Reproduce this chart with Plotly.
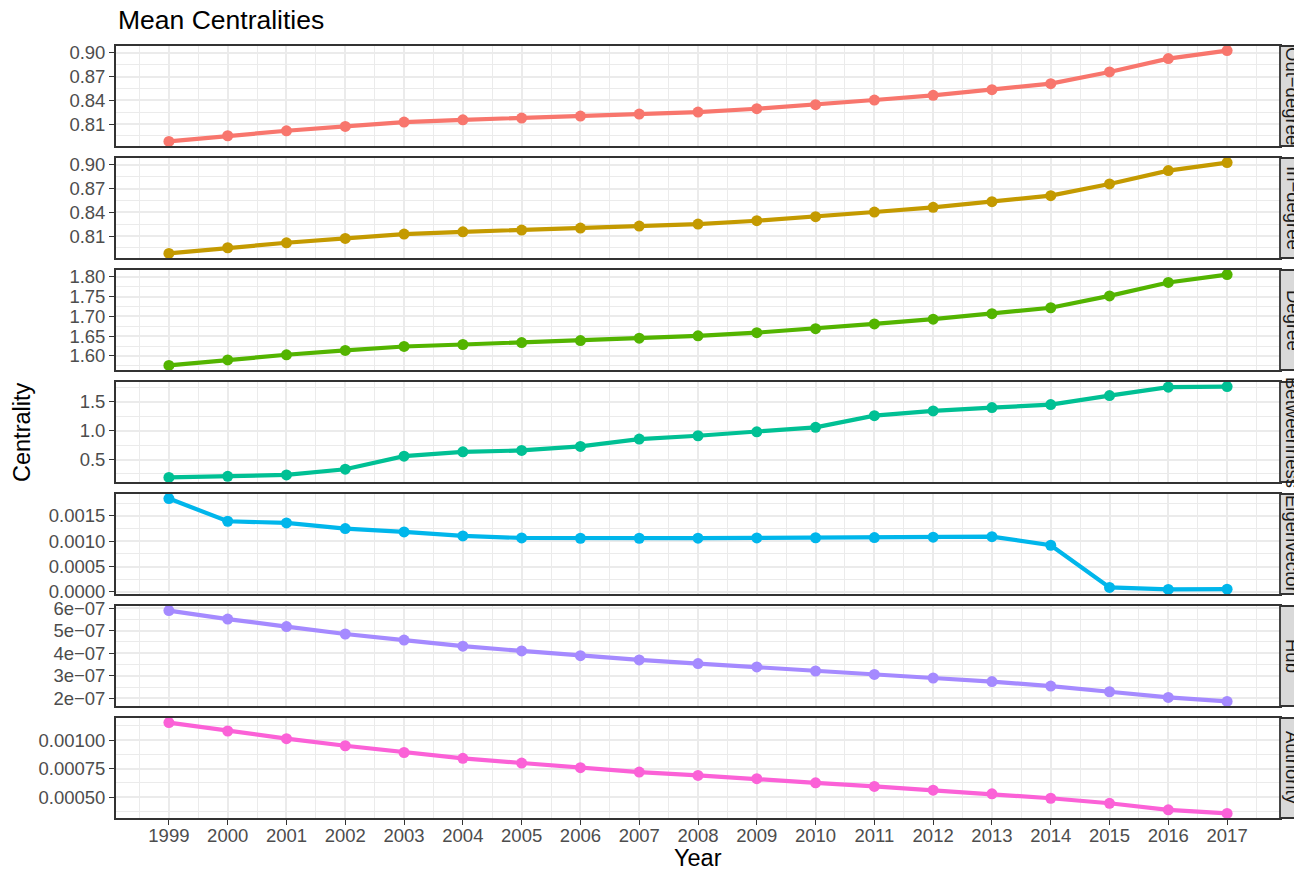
import plotly.graph_objects as go

# ---------------- data ----------------
years = list(range(1999, 2018))
facet_names = ["Out−degree", "In−degree", "Degree", "Betweenness", "Eigenvector", "Hub", "Authority"]
colors = ["#F8766D", "#C49A00", "#53B400", "#00C094", "#00B6EB", "#A58AFF", "#FB61D7"]

out_degree = [0.788, 0.7952, 0.8015, 0.8070, 0.8125, 0.8154, 0.8176, 0.8201, 0.8227, 0.8252,
              0.8294, 0.8345, 0.8404, 0.8463, 0.8535, 0.8611, 0.8759, 0.8928, 0.903]
in_degree = [0.788, 0.7952, 0.8015, 0.8070, 0.8125, 0.8154, 0.8176, 0.8201, 0.8227, 0.8252,
             0.8294, 0.8345, 0.8404, 0.8463, 0.8535, 0.8611, 0.8759, 0.8928, 0.903]
degree = [1.576, 1.590, 1.603, 1.614, 1.624, 1.629, 1.634, 1.639, 1.645, 1.651,
          1.659, 1.669, 1.681, 1.693, 1.707, 1.722, 1.752, 1.786, 1.806]
betweenness = [0.19, 0.21, 0.233, 0.332, 0.557, 0.632, 0.656, 0.726, 0.852, 0.91,
               0.979, 1.056, 1.257, 1.339, 1.396, 1.448, 1.604, 1.749, 1.76]
eigenvector = [0.001843, 0.001395, 0.001362, 0.00125, 0.001184, 0.001105, 0.001066, 0.00106, 0.00106, 0.001062,
               0.001066, 0.00107, 0.001073, 0.00108, 0.00109, 0.000922, 0.00009, 0.00005, 0.000055]
hub = [5.89e-7, 5.51e-7, 5.18e-7, 4.85e-7, 4.58e-7, 4.31e-7, 4.10e-7, 3.89e-7, 3.70e-7, 3.54e-7,
       3.39e-7, 3.21e-7, 3.06e-7, 2.90e-7, 2.74e-7, 2.54e-7, 2.29e-7, 2.04e-7, 1.86e-7]
authority = [0.001153, 0.001079, 0.001012, 0.00095, 0.000891, 0.00084, 0.000799, 0.000758, 0.00072, 0.000691,
             0.000662, 0.000626, 0.000594, 0.000562, 0.00053, 0.000491, 0.000447, 0.00039, 0.000358]

series = [out_degree, in_degree, degree, betweenness, eigenvector, hub, authority]

# tick values / labels per facet
tick_vals = [
    [0.81, 0.84, 0.87, 0.90],
    [0.81, 0.84, 0.87, 0.90],
    [1.60, 1.65, 1.70, 1.75, 1.80],
    [0.5, 1.0, 1.5],
    [0.0, 0.0005, 0.0010, 0.0015],
    [2e-7, 3e-7, 4e-7, 5e-7, 6e-7],
    [0.0005, 0.00075, 0.0010],
]
tick_text = [
    ["0.81", "0.84", "0.87", "0.90"],
    ["0.81", "0.84", "0.87", "0.90"],
    ["1.60", "1.65", "1.70", "1.75", "1.80"],
    ["0.5", "1.0", "1.5"],
    ["0.0000", "0.0005", "0.0010", "0.0015"],
    ["2e−07", "3e−07", "4e−07", "5e−07", "6e−07"],
    ["0.00050", "0.00075", "0.00100"],
]

title_text = "Mean Centralities"
x_title = "Year"
y_title = "Centrality"

# ---------------- layout geometry ----------------
# the page body adds an 8px offset, so the figure is 8px smaller and shifted
OFF = 8
W, H = 1302 - OFF, 872 - OFF
L, R, T, B = 116 - OFF, 22, 46 - OFF, 54
plot_w = W - L - R
plot_h = H - T - B
n = len(series)
gap_px = 12
panel_px = (plot_h - gap_px * (n - 1)) / n

FONT = "Liberation Sans, Arial, sans-serif"
GRID = "#EBEBEB"
BORDER = "#333333"
TICKC = "#4D4D4D"
TICK_FS = 18.5

fig = go.Figure()
shapes = []
annotations = []

x_lo = years[0] - 0.05 * (years[-1] - years[0])
x_hi = years[-1] + 0.05 * (years[-1] - years[0])
x_minor = [y + 0.5 for y in range(years[0] - 1, years[-1] + 1)]

for i, (vals, col, name) in enumerate(zip(series, colors, facet_names)):
    k = i + 1
    top = 1 - i * (panel_px + gap_px) / plot_h
    bot = top - panel_px / plot_h
    xa = "x" if k == 1 else f"x{k}"
    ya = "y" if k == 1 else f"y{k}"
    fig.add_trace(go.Scatter(
        x=years, y=vals, mode="lines+markers", xaxis=xa, yaxis=ya,
        line=dict(color=col, width=4.2), marker=dict(color=col, size=11),
        showlegend=False, hoverinfo="x+y"))

    lo, hi = min(vals), max(vals)
    span = hi - lo
    y_lo, y_hi = lo - 0.05 * span, hi + 0.05 * span
    tv = tick_vals[i]
    step = tv[1] - tv[0]
    minor_vals = [tv[0] - step / 2] + [t + step / 2 for t in tv]

    last = (k == n)
    fig.layout[f"xaxis{'' if k == 1 else k}"] = dict(
        domain=[0, 1], anchor=ya, range=[x_lo, x_hi],
        tickmode="array", tickvals=years, ticktext=[str(y) for y in years],
        showticklabels=last, ticks="outside" if last else "", ticklen=5, tickwidth=1.2,
        tickcolor=BORDER, tickfont=dict(family=FONT, size=TICK_FS, color=TICKC),
        ticklabelstandoff=-5 if last else 0,
        showgrid=True, gridcolor=GRID, gridwidth=1.8,
        minor=dict(tickmode="array", tickvals=x_minor, showgrid=True, gridcolor=GRID, gridwidth=0.9, ticks=""),
        showline=True, mirror=True, linecolor=BORDER, linewidth=1.8, zeroline=False,
        matches="x" if k != 1 else None,
    )
    fig.layout[f"yaxis{'' if k == 1 else k}"] = dict(
        domain=[bot, top], anchor=xa, range=[y_lo, y_hi],
        tickmode="array", tickvals=tv, ticktext=tick_text[i],
        ticks="outside", ticklen=5, tickwidth=1.2, tickcolor=BORDER,
        tickfont=dict(family=FONT, size=TICK_FS, color=TICKC),
        showgrid=True, gridcolor=GRID, gridwidth=1.8,
        minor=dict(tickmode="array", tickvals=minor_vals, showgrid=True, gridcolor=GRID, gridwidth=0.9, ticks=""),
        showline=True, mirror=True, linecolor=BORDER, linewidth=1.8, zeroline=False,
    )

    # facet strip on the right
    shapes.append(dict(type="rect", xref="paper", yref="paper",
                       x0=1.0, x1=1 + 40 / plot_w, y0=bot, y1=top,
                       fillcolor="#D9D9D9", line=dict(color=BORDER, width=1.8), layer="above"))
    annotations.append(dict(text=name, xref="paper", yref="paper",
                            x=1 + 13 / plot_w, y=(bot + top) / 2, showarrow=False,
                            textangle=90, xanchor="center", yanchor="middle",
                            font=dict(family=FONT, size=TICK_FS, color="#1A1A1A")))

annotations.append(dict(text=title_text, xref="paper", yref="paper", x=0, y=1 + 26 / plot_h,
                        xanchor="left", yanchor="middle", showarrow=False,
                        font=dict(family=FONT, size=26.5, color="#000000")))
annotations.append(dict(text=x_title, xref="paper", yref="paper", x=0.5, y=-40 / plot_h,
                        xanchor="center", yanchor="middle", showarrow=False,
                        font=dict(family=FONT, size=23.5, color="#000000")))
annotations.append(dict(text=y_title, xref="paper", yref="paper", x=-94 / plot_w, y=0.5,
                        xanchor="center", yanchor="middle", showarrow=False, textangle=-90,
                        font=dict(family=FONT, size=23.5, color="#000000")))

fig.update_layout(
    width=W, height=H,
    margin=dict(l=L, r=R, t=T, b=B),
    paper_bgcolor="white", plot_bgcolor="white",
    shapes=shapes, annotations=annotations,
    showlegend=False,
)

fig.write_html("out.html")
